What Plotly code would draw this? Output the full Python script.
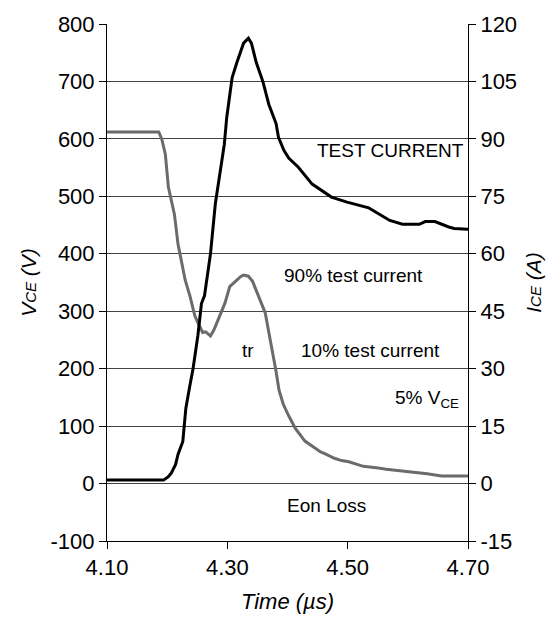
import plotly.graph_objects as go

# Turn-on switching waveform: collector-emitter voltage and collector current
t_vce = [4.100, 4.186, 4.191, 4.197, 4.202, 4.212, 4.218, 4.222, 4.230, 4.238,
         4.246, 4.251, 4.259, 4.264, 4.272, 4.278, 4.283, 4.291, 4.296, 4.304,
         4.311, 4.316, 4.322, 4.327, 4.335, 4.342, 4.348, 4.356, 4.363, 4.369,
         4.376, 4.381, 4.386, 4.393, 4.402, 4.413, 4.429, 4.445, 4.455, 4.462,
         4.478, 4.490, 4.502, 4.526, 4.540, 4.551, 4.564, 4.591, 4.612, 4.632,
         4.656, 4.700]
vce = [612, 612, 600, 573, 516, 469, 417, 395, 354, 326,
       292, 280, 263, 264, 257, 268, 280, 300, 314, 343,
       350, 354, 360, 363, 361, 352, 337, 314, 297, 263,
       225, 195, 162, 138, 118, 96, 74, 62, 55, 52,
       44, 40, 38, 30, 29, 27, 25, 22, 19, 17,
       13, 13]

t_ice = [4.100, 4.194, 4.202, 4.207, 4.214, 4.218, 4.226, 4.231, 4.238, 4.243,
         4.251, 4.257, 4.262, 4.272, 4.280, 4.288, 4.295, 4.299, 4.304, 4.308,
         4.316, 4.327, 4.335, 4.340, 4.348, 4.359, 4.369, 4.381, 4.385, 4.394,
         4.402, 4.418, 4.441, 4.473, 4.499, 4.526, 4.535, 4.538, 4.551, 4.570,
         4.591, 4.619, 4.629, 4.645, 4.668, 4.677, 4.700]
ice = [0.9, 0.9, 1.8, 2.8, 5.0, 7.6, 11.0, 19.6, 25.8, 30.0,
       38.6, 47.0, 49.0, 60.0, 73.0, 81.0, 88.6, 95.6, 102.0, 106.0,
       110.0, 115.0, 116.3, 115.0, 110.0, 105.0, 99.0, 94.0, 90.4, 87.0,
       85.0, 82.6, 78.2, 74.8, 73.5, 72.5, 72.0, 71.7, 70.5, 68.7,
       67.7, 67.7, 68.4, 68.4, 67.0, 66.6, 66.4]

x_ticks = [4.10, 4.30, 4.50, 4.70]
v_ticks = list(range(-100, 801, 100))
i_ticks = list(range(-15, 121, 15))

# Text labels placed in (time, voltage) coordinates
labels = ["TEST CURRENT", "90% test current", "tr", "10% test current",
          "5% V<sub>CE</sub>", "Eon Loss"]
label_t = [4.572, 4.510, 4.335, 4.538, 4.632, 4.465]
label_v = [580, 363, 232, 232, 148, -38]

FONT = "Liberation Sans, Arial, sans-serif"

fig = go.Figure()
fig.add_trace(go.Scatter(x=t_vce, y=vce, mode="lines",
                         line=dict(color="#6b6b6b", width=3),
                         yaxis="y", showlegend=False))
fig.add_trace(go.Scatter(x=t_ice, y=ice, mode="lines",
                         line=dict(color="#000000", width=3),
                         yaxis="y2", showlegend=False))

for txt, tx, ty in zip(labels, label_t, label_v):
    fig.add_annotation(x=tx, y=ty, xref="x", yref="y", text=txt,
                       showarrow=False, font=dict(family=FONT, size=19, color="#000"))

fig.update_layout(
    width=554, height=633,
    margin=dict(l=107, r=77, t=18, b=92),
    paper_bgcolor="white", plot_bgcolor="white",
    font=dict(family=FONT, color="#000"),
    xaxis=dict(range=[4.10, 4.70], tickvals=x_ticks,
               ticktext=[f"{v:.2f}" for v in x_ticks],
               showgrid=False, zeroline=False,
               showline=True, linecolor="#000", linewidth=1,
               ticks="outside", ticklen=7, tickcolor="#000",
               tickfont=dict(size=22),
               title=dict(text="<i>Time (µs)</i>", font=dict(size=22), standoff=14)),
    yaxis=dict(range=[-100, 800], tickvals=v_ticks,
               ticktext=[str(v) for v in v_ticks],
               showgrid=True, gridcolor="#444", gridwidth=1, zeroline=False,
               showline=True, linecolor="#000", linewidth=1,
               ticks="outside", ticklen=7, tickcolor="#000",
               tickfont=dict(size=22),
               title=dict(text="<i>V<span style='font-size:15px'>CE</span> (V)</i>",
                          font=dict(size=21), standoff=8)),
    yaxis2=dict(range=[-15, 120], tickvals=i_ticks, overlaying="y", side="right",
                ticktext=[str(v) for v in i_ticks],
                showgrid=False, zeroline=False,
                showline=True, linecolor="#000", linewidth=1,
                ticks="outside", ticklen=7, tickcolor="#000",
                tickfont=dict(size=22),
                title=dict(text="<i>I<span style='font-size:15px'>CE</span> (A)</i>",
                           font=dict(size=21), standoff=10)),
)

fig.write_html("out.html")
